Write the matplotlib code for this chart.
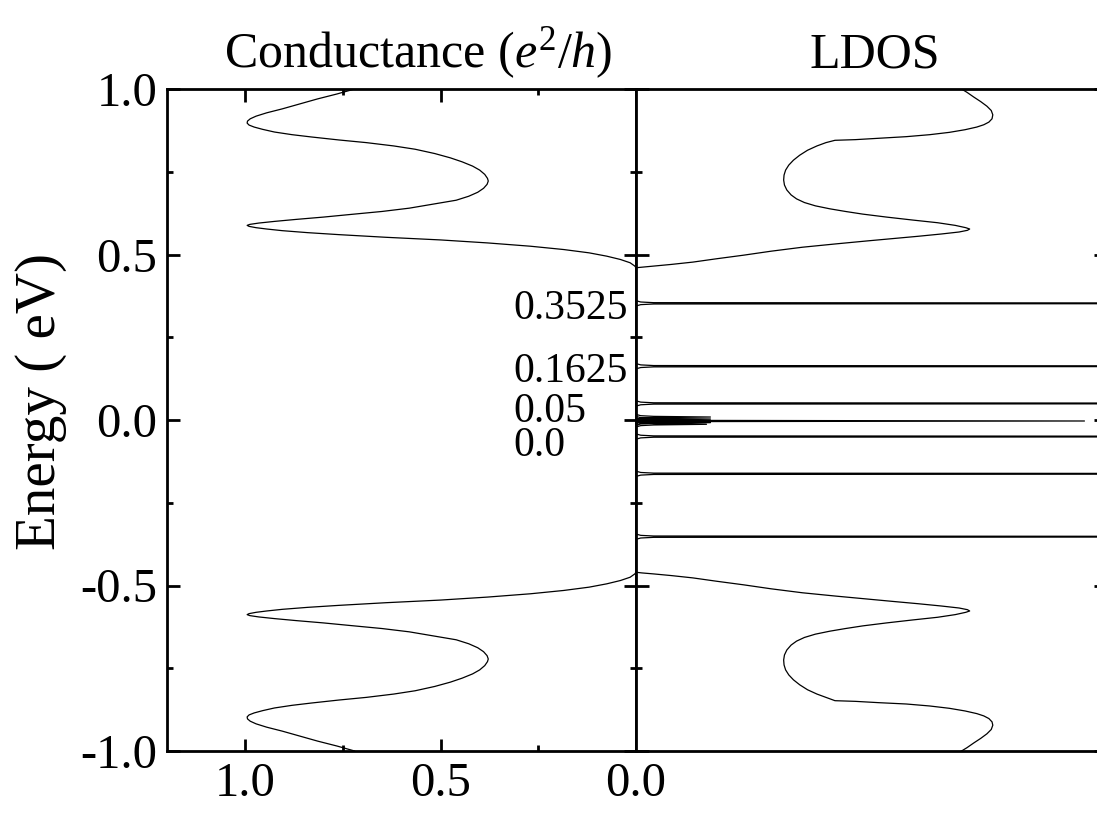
import numpy as np
import matplotlib
matplotlib.use("Agg")
import matplotlib.pyplot as plt

plt.rcParams['font.family'] = ['Liberation Serif', 'DejaVu Serif']
plt.rcParams['mathtext.fontset'] = 'custom'
plt.rcParams['mathtext.rm'] = 'Liberation Serif'
plt.rcParams['mathtext.it'] = 'Liberation Serif:italic'

# ---- conductance (e^2/h) vs energy (eV) ----
cond_E = [1.000, 0.985, 0.970, 0.955, 0.940, 0.928, 0.918, 0.910, 0.903, 0.897,
          0.891, 0.885, 0.878, 0.870, 0.862, 0.855, 0.846, 0.838, 0.828, 0.818,
          0.805, 0.792, 0.780, 0.767, 0.755, 0.742, 0.730, 0.722, 0.712, 0.700,
          0.688, 0.676, 0.664, 0.652, 0.640, 0.630, 0.621, 0.613, 0.606, 0.600,
          0.595, 0.591, 0.588, 0.585, 0.581, 0.577, 0.572, 0.566, 0.560, 0.552,
          0.544, 0.535, 0.525, 0.515, 0.505, 0.495, 0.485, 0.475, 0.465, 0.460,
          -0.460, -0.465, -0.475, -0.485, -0.495, -0.505, -0.515, -0.525, -0.535,
          -0.544, -0.552, -0.560, -0.566, -0.572, -0.577, -0.581, -0.585, -0.588,
          -0.591, -0.595, -0.600, -0.606, -0.613, -0.621, -0.630, -0.640, -0.652,
          -0.664, -0.676, -0.688, -0.700, -0.712, -0.722, -0.730, -0.742, -0.755,
          -0.767, -0.780, -0.792, -0.805, -0.818, -0.828, -0.838, -0.846, -0.855,
          -0.862, -0.870, -0.878, -0.885, -0.891, -0.897, -0.903, -0.910, -0.918,
          -0.928, -0.940, -0.955, -0.970, -0.985, -1.000]
cond_G = [0.720, 0.765, 0.815, 0.860, 0.905, 0.945, 0.972, 0.987, 0.994, 0.995,
          0.990, 0.977, 0.955, 0.925, 0.880, 0.830, 0.760, 0.690, 0.620, 0.565,
          0.515, 0.475, 0.445, 0.418, 0.400, 0.387, 0.380, 0.378, 0.381, 0.390,
          0.405, 0.428, 0.460, 0.520, 0.580, 0.650, 0.730, 0.800, 0.870, 0.925,
          0.965, 0.988, 0.995, 0.990, 0.972, 0.945, 0.905, 0.840, 0.760, 0.640,
          0.500, 0.380, 0.270, 0.185, 0.120, 0.075, 0.040, 0.015, 0.003, 0.000,
          0.000, 0.003, 0.015, 0.040, 0.075, 0.120, 0.185, 0.270, 0.380,
          0.500, 0.640, 0.760, 0.840, 0.905, 0.945, 0.972, 0.990, 0.995,
          0.988, 0.965, 0.925, 0.870, 0.800, 0.730, 0.650, 0.580, 0.520,
          0.460, 0.428, 0.405, 0.390, 0.381, 0.378, 0.380, 0.387, 0.400,
          0.418, 0.445, 0.475, 0.515, 0.565, 0.620, 0.690, 0.760, 0.830,
          0.880, 0.925, 0.955, 0.977, 0.990, 0.995, 0.994, 0.987, 0.972,
          0.945, 0.905, 0.860, 0.815, 0.765, 0.720]

# ---- LDOS bands (arb. units) ----
ldos_up_E = [1.003, 0.990, 0.976, 0.962, 0.948, 0.935, 0.922, 0.910, 0.900, 0.892,
             0.885, 0.877, 0.869, 0.862, 0.856, 0.851, 0.847, 0.845, 0.838, 0.828,
             0.815, 0.800, 0.785, 0.770, 0.755, 0.740, 0.725, 0.710, 0.695, 0.680,
             0.668, 0.657, 0.647, 0.638, 0.630, 0.622, 0.613, 0.604, 0.596, 0.588,
             0.581, 0.577, 0.573, 0.568, 0.562, 0.555, 0.548, 0.541, 0.532, 0.522,
             0.510, 0.498, 0.487, 0.477, 0.470, 0.465, 0.462, 0.460]
ldos_up_L = [0.827, 0.845, 0.862, 0.880, 0.896, 0.907, 0.911, 0.909, 0.901, 0.888,
             0.870, 0.840, 0.800, 0.750, 0.690, 0.620, 0.560, 0.508, 0.485, 0.462,
             0.438, 0.418, 0.402, 0.390, 0.382, 0.378, 0.377, 0.379, 0.385, 0.396,
             0.410, 0.430, 0.458, 0.495, 0.535, 0.579, 0.640, 0.707, 0.770, 0.815,
             0.842, 0.852, 0.846, 0.825, 0.780, 0.720, 0.655, 0.590, 0.510, 0.425,
             0.345, 0.275, 0.205, 0.145, 0.090, 0.045, 0.015, 0.000]
ldos_dn_E = [-0.460, -0.462, -0.465, -0.470, -0.477, -0.487, -0.498, -0.510, -0.522,
             -0.532, -0.541, -0.548, -0.555, -0.562, -0.568, -0.573, -0.577, -0.581,
             -0.588, -0.596, -0.604, -0.613, -0.622, -0.630, -0.638, -0.647, -0.657,
             -0.668, -0.680, -0.695, -0.710, -0.725, -0.740, -0.755, -0.770, -0.785,
             -0.800, -0.815, -0.828, -0.838, -0.848, -0.850, -0.854, -0.858, -0.864,
             -0.871, -0.879, -0.887, -0.894, -0.902, -0.912, -0.922, -0.935, -0.948,
             -0.962, -0.976, -0.990, -1.003]
ldos_dn_L = [0.000, 0.015, 0.045, 0.090, 0.145, 0.205, 0.275, 0.345, 0.425,
             0.510, 0.590, 0.655, 0.720, 0.780, 0.825, 0.846, 0.852, 0.842,
             0.815, 0.770, 0.707, 0.640, 0.579, 0.535, 0.495, 0.458, 0.430,
             0.410, 0.396, 0.385, 0.379, 0.377, 0.378, 0.382, 0.390, 0.402,
             0.418, 0.438, 0.462, 0.485, 0.508, 0.560, 0.620, 0.690, 0.750,
             0.800, 0.840, 0.870, 0.888, 0.901, 0.909, 0.911, 0.907, 0.896,
             0.880, 0.862, 0.845, 0.827]

# bound states inside the gap: energy and peak height (tall ones run off the axes)
peak_E = [0.3525, 0.1625, 0.05, 0.009, 0.003, -0.003, -0.008, -0.013, -0.05, -0.1625, -0.3525]
peak_H = [3.0, 3.0, 3.0, 0.19, 0.19, 1.145, 0.19, 0.18, 3.0, 3.0, 3.0]
# shape of one spike (energy offset, base value; None = peak top)
spike_dE = [0.008, 0.004, 0.002, 0.0, -0.002, -0.004, -0.008]
spike_base = [0.0, 0.012, 0.045, None, 0.045, 0.012, 0.0]

peak_labels = ['0.3525', '0.1625', '0.05', '0.0']

# build LDOS polyline: upper band, gap spikes, lower band
ldos_E = list(ldos_up_E)
ldos_L = list(ldos_up_L)
for e0, h in zip(peak_E, peak_H):
    for de, b in zip(spike_dE, spike_base):
        ldos_E.append(e0 + de)
        ldos_L.append(h if b is None else min(b, h))
ldos_E += ldos_dn_E
ldos_L += ldos_dn_L

W, H = 1097, 814
fig = plt.figure(figsize=(W / 100, H / 100), dpi=100)
ax1 = fig.add_axes([167 / W, 63 / H, 469 / W, 662 / H])
ax2 = fig.add_axes([636 / W, 63 / H, 470 / W, 662 / H])

ax1.plot(cond_G, cond_E, color='black', lw=0.9)
ax2.plot(ldos_L, ldos_E, color='black', lw=0.9)

ax1.set_xlim(1.2, 0.0)
ax2.set_xlim(0.0, 1.2)
for ax in (ax1, ax2):
    ax.set_ylim(-1.0, 1.0)
    ax.set_yticks([-1.0, -0.5, 0.0, 0.5, 1.0])
    ax.set_yticks([-0.75, -0.25, 0.25, 0.75], minor=True)
    for s in ax.spines.values():
        s.set_linewidth(2.0)
    ax.tick_params(which='both', direction='in', left=True, right=True, width=2.0)
    ax.tick_params(which='major', length=9)
    ax.tick_params(which='minor', length=4.5)

ax1.set_yticklabels(['-1.0', '-0.5', '0.0', '0.5', '1.0'], fontsize=35)
ax1.set_xticks([1.0, 0.5, 0.0])
ax1.set_xticks([0.75, 0.25], minor=True)
ax1.set_xticklabels(['1.0', '0.5', '0.0'], fontsize=35)
ax1.tick_params(which='both', top=True, bottom=True)
ax1.tick_params(axis='y', pad=7)
ax1.tick_params(axis='x', pad=8)

ax2.set_xticks([])
ax2.set_yticklabels([])

# labels of the bound-state energies
label_pos = [(0.314, 0.305), (0.314, 0.115), (0.314, -0.006), (0.314, -0.110)]
for txt, (gx, ey) in zip(peak_labels, label_pos):
    ax1.text(gx, ey, txt, fontsize=30, ha='left', va='baseline')

fig.text(418 / W, 1 - 67 / H, r'Conductance ($e^2/h$)', fontsize=36,
         ha='center', va='baseline')
fig.text(875 / W, 1 - 67 / H, 'LDOS', fontsize=36, ha='center', va='baseline')
fig.text(41 / W, 1 - 402 / H, 'Energy ( eV)', fontsize=41, rotation=90,
         ha='center', va='center')

fig.savefig('out.png', dpi=100)
